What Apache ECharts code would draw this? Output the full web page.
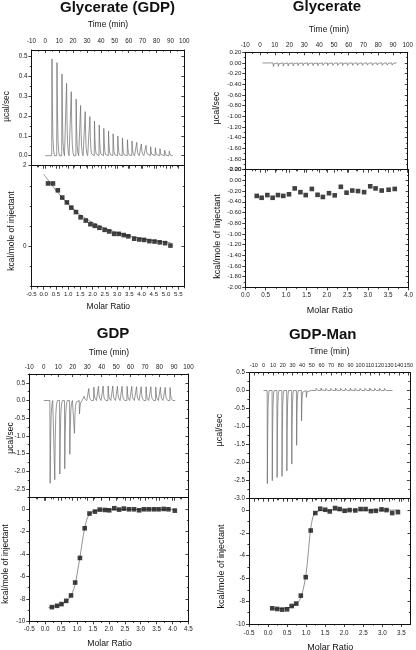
<!DOCTYPE html>
<html><head><meta charset="utf-8">
<script src="https://cdn.jsdelivr.net/npm/echarts@6/dist/echarts.min.js"></script>
<style>html,body{margin:0;padding:0;background:#fff}#c{width:416px;height:650px}</style>
</head><body><div id="c"></div><script>
const FONT = '"Liberation Sans", Arial, sans-serif';

// ---------- Panel A: Glycerate (GDP) ----------
const aInjTime = [4.8, 8.4, 12.0, 15.3, 18.7, 22.2, 25.4, 28.7, 32.1, 35.4, 38.8, 42.1, 45.5, 48.8, 52.2, 55.5, 59.1, 62.4, 65.8, 69.1, 72.5, 75.8, 79.2, 82.5, 85.9, 89.2];
const aInjPeak = [0.485, 0.467, 0.410, 0.363, 0.321, 0.284, 0.252, 0.221, 0.196, 0.174, 0.154, 0.137, 0.124, 0.110, 0.099, 0.089, 0.080, 0.074, 0.067, 0.059, 0.052, 0.045, 0.040, 0.035, 0.028, 0.023];
const aBaseline = [0, 91.7];
const aRatio = [0.18, 0.38, 0.58, 0.76, 0.95, 1.13, 1.32, 1.51, 1.72, 1.91, 2.09, 2.28, 2.49, 2.68, 2.88, 3.07, 3.27, 3.46, 3.70, 3.91, 4.11, 4.32, 4.53, 4.74, 4.96, 5.18];
const aHeat = [1.56, 1.56, 1.39, 1.21, 1.09, 0.96, 0.85, 0.72, 0.64, 0.55, 0.51, 0.46, 0.41, 0.37, 0.31, 0.31, 0.28, 0.25, 0.19, 0.17, 0.16, 0.13, 0.12, 0.10, 0.08, 0.02];
const aFitRatio = [0.0, 0.2, 0.4, 0.6, 0.8, 1.0, 1.25, 1.5, 1.75, 2.0, 2.5, 3.0, 3.5, 4.0, 4.5, 5.2];
const aFitHeat = [1.79, 1.63, 1.47, 1.32, 1.18, 1.05, 0.91, 0.78, 0.68, 0.59, 0.45, 0.34, 0.26, 0.19, 0.14, 0.09];
const aTimeLabels = [-10, 0, 10, 20, 30, 40, 50, 60, 70, 80, 90, 100];
const aPowerLabels = [0, 0.1, 0.2, 0.3, 0.4, 0.5];
const aRatioLabels = [-0.5, 0, 0.5, 1, 1.5, 2, 2.5, 3, 3.5, 4, 4.5, 5, 5.5];
const aHeatLabels = [2, 0];

// ---------- Panel B: Glycerate ----------
const bInjTime = [5.5, 9.0, 12.3, 15.7, 19.0, 22.4, 25.7, 29.1, 32.4, 35.8, 39.1, 42.5, 45.8, 49.2, 52.5, 55.9, 59.2, 62.6, 65.9, 69.3, 72.6, 76.0, 79.3, 82.7, 86.0, 89.4];
const bInjPeak = [0.03, -0.065, -0.06, -0.06, -0.055, -0.055, -0.05, -0.05, -0.05, -0.05, -0.05, -0.045, -0.05, -0.045, -0.045, -0.05, -0.045, -0.045, -0.045, -0.045, -0.04, -0.045, -0.04, -0.045, -0.04, -0.04];
const bBaseline = [1.6, 92.5];
const bRatio = [0.28, 0.40, 0.54, 0.67, 0.80, 0.93, 1.07, 1.21, 1.35, 1.48, 1.63, 1.77, 1.90, 2.05, 2.19, 2.34, 2.48, 2.62, 2.76, 2.91, 3.06, 3.19, 3.34, 3.51, 3.66];
const bHeat = [-0.29, -0.325, -0.275, -0.325, -0.275, -0.29, -0.26, -0.15, -0.22, -0.275, -0.16, -0.27, -0.31, -0.24, -0.28, -0.12, -0.23, -0.19, -0.20, -0.22, -0.11, -0.15, -0.19, -0.175, -0.16];
const bTimeLabels = [-10, 0, 10, 20, 30, 40, 50, 60, 70, 80, 90, 100];
const bPowerLabels = [0.2, 0, -0.2, -0.4, -0.6, -0.8, -1.0, -1.2, -1.4, -1.6, -1.8, -2.0];
const bRatioLabels = [0, 0.5, 1, 1.5, 2, 2.5, 3, 3.5, 4];
const bHeatLabels = [0.2, 0, -0.2, -0.4, -0.6, -0.8, -1.0, -1.2, -1.4, -1.6, -1.8, -2.0];

// ---------- Panel C: GDP ----------
const cInjTime = [4.4, 7.6, 11.1, 14.5, 18.0, 21.2, 24.7, 27.9, 31.1, 34.6, 37.8, 41.0, 44.5, 47.7, 50.9, 54.1, 57.6, 60.8, 64.1, 67.3, 70.7, 74.0, 77.4, 80.6, 83.9, 87.3];
const cInjPeak = [-2.34, -2.24, -2.08, -1.93, -1.52, -0.93, -0.38, 0.12, 0.34, 0.38, 0.40, 0.41, 0.41, 0.41, 0.40, 0.40, 0.40, 0.40, 0.39, 0.39, 0.39, 0.39, 0.38, 0.38, 0.37, 0.37];
const cBaseline = [0, 90.8];
const cRatio = [0.21, 0.37, 0.51, 0.66, 0.81, 0.94, 1.09, 1.24, 1.39, 1.56, 1.71, 1.87, 2.01, 2.17, 2.32, 2.47, 2.63, 2.79, 2.95, 3.10, 3.25, 3.41, 3.56, 3.72, 3.87, 4.07];
const cHeat = [-8.74, -8.62, -8.47, -8.18, -7.70, -6.55, -4.36, -1.72, -0.41, -0.24, -0.06, -0.09, -0.12, 0.06, -0.06, 0.03, -0.03, -0.03, -0.12, -0.03, -0.03, -0.03, -0.03, 0.0, -0.03, -0.15];
const cFitRatio = [0.1, 0.3, 0.5, 0.65, 0.8, 0.9, 0.97, 1.03, 1.09, 1.15, 1.2, 1.25, 1.3, 1.38, 1.5, 1.7, 2.0, 3.0, 4.1];
const cFitHeat = [-8.78, -8.68, -8.5, -8.25, -7.75, -7.1, -6.3, -5.3, -4.3, -3.2, -2.3, -1.6, -1.0, -0.5, -0.22, -0.1, -0.06, -0.04, -0.04];
const cTimeLabels = [-10, 0, 10, 20, 30, 40, 50, 60, 70, 80, 90, 100];
const cPowerLabels = [0.5, 0, -0.5, -1.0, -1.5, -2.0, -2.5];
const cRatioLabels = [-0.5, 0, 0.5, 1, 1.5, 2, 2.5, 3, 3.5, 4, 4.5];
const cHeatLabels = [0, -2, -4, -6, -8, -10];

// ---------- Panel D: GDP-Man ----------
const dInjTime = [4.0, 9.1, 14.1, 19.2, 24.2, 29.3, 34.3, 39.4, 44.4, 49.5, 54.5, 59.6, 64.6, 69.7, 74.7, 79.8, 84.8, 89.9, 94.9, 100.0, 105.0, 110.1, 115.1, 120.2, 125.2, 130.3];
const dInjPeak = [-2.58, -2.50, -2.41, -2.38, -2.23, -2.04, -1.52, -0.84, -0.19, 0.05, 0.06, 0.07, 0.06, 0.06, 0.07, 0.06, 0.06, 0.07, 0.06, 0.06, 0.06, 0.07, 0.06, 0.06, 0.06, 0.05];
const dBaseline = [0, 133.5];
const dRatio = [0.11, 0.24, 0.37, 0.50, 0.62, 0.74, 0.86, 0.99, 1.12, 1.24, 1.37, 1.50, 1.62, 1.76, 1.88, 2.01, 2.14, 2.29, 2.43, 2.56, 2.70, 2.83, 2.98, 3.11, 3.26, 3.41];
const dHeat = [-8.62, -8.68, -8.74, -8.71, -8.42, -8.21, -7.51, -5.89, -1.79, -0.26, 0.12, 0.03, -0.12, 0.18, 0.09, -0.06, 0.0, -0.03, 0.09, 0.09, -0.09, -0.06, 0.06, 0.0, -0.26, -0.18];
const dFitRatio = [0.1, 0.3, 0.5, 0.6, 0.7, 0.8, 0.86, 0.92, 0.98, 1.02, 1.06, 1.10, 1.14, 1.18, 1.22, 1.3, 1.4, 1.6, 3.45];
const dFitHeat = [-8.66, -8.65, -8.58, -8.5, -8.35, -8.05, -7.65, -7.0, -6.0, -5.0, -3.6, -2.2, -1.2, -0.6, -0.3, -0.12, -0.05, 0.0, 0.0];
const dTimeLabels = [-10, 0, 10, 20, 30, 40, 50, 60, 70, 80, 90, 100, 110, 120, 130, 140, 150];
const dPowerLabels = [0.5, 0, -0.5, -1.0, -1.5, -2.0, -2.5, -3.0];
const dRatioLabels = [-0.5, 0, 0.5, 1, 1.5, 2, 2.5, 3, 3.5];
const dHeatLabels = [0, -2, -4, -6, -8, -10];

// ---------- builders ----------
function steps(a, b, s) { const r = []; for (let v = a; v <= b + 1e-9; v += s) r.push(+v.toFixed(6)); return r; }
function trace(times, peaks, base) {
  const pts = [[base[0], 0]];
  for (let i = 0; i < times.length; i++) {
    const t = times[i], h = peaks[i];
    pts.push([t - 0.2, 0], [t, h], [t + 0.3, 0.5 * h], [t + 0.7, 0.18 * h], [t + 1.2, 0.05 * h], [t + 1.8, 0]);
  }
  pts.push([base[1], 0]);
  return pts;
}
function zip(a, b) { return a.map((v, i) => [v, b[i]]); }

const grids = [], xAxes = [], yAxes = [], series = [], graphics = [];

function axisObj(g, pos, c, showLabel, minor) {
  return {
    type: 'value', gridIndex: g, position: pos, min: c.min, max: c.max,
    axisLine: { show: !minor, onZero: false, lineStyle: { color: '#111', width: 1 } },
    axisTick: { show: true, inside: (pos === 'right' || pos === 'top'),
      length: minor ? 1.6 : 3, customValues: minor ? c.minor : c.labels,
      lineStyle: { color: '#111', width: 0.8 } },
    axisLabel: { show: showLabel, customValues: c.labels, formatter: c.fmt,
      fontSize: c.fs || 6.3, margin: c.margin, color: '#222', fontFamily: FONT, hideOverlap: false,
      showMinLabel: true, showMaxLabel: true },
    splitLine: { show: false }, minorTick: { show: false }, minorSplitLine: { show: false }
  };
}
function addGrid(rect, xs, ys) {
  const g = grids.length;
  grids.push({ left: rect[0], top: rect[1], width: rect[2], height: rect[3], containLabel: false });
  const xi = xAxes.length, yi = yAxes.length;
  xAxes.push(axisObj(g, xs.labelPos, xs, xs.show, false));
  xAxes.push(axisObj(g, xs.labelPos === 'top' ? 'bottom' : 'top', xs, false, false));
  xAxes.push(axisObj(g, 'bottom', xs, false, true));
  xAxes.push(axisObj(g, 'top', xs, false, true));
  yAxes.push(axisObj(g, 'left', ys, ys.show, false));
  yAxes.push(axisObj(g, 'right', ys, false, false));
  yAxes.push(axisObj(g, 'left', ys, false, true));
  yAxes.push(axisObj(g, 'right', ys, false, true));
  return { xi, yi };
}
const f0 = v => String(Math.round(v));
const f1 = v => v.toFixed(1);
const f2 = v => v.toFixed(2);

function addText(text, x, y, size, bold, rot) {
  graphics.push({ type: 'text', x: x, y: y, rotation: rot ? Math.PI / 2 : 0, silent: true,
    style: { text: text, fontSize: size, fontWeight: bold ? 'bold' : 'normal', fontFamily: FONT,
      fill: '#111', textAlign: 'center', textVerticalAlign: 'middle', align: 'center', verticalAlign: 'middle' } });
}
function rawSeries(ax, data) {
  series.push({ type: 'line', xAxisIndex: ax.xi, yAxisIndex: ax.yi, data: data, showSymbol: false,
    symbol: 'none', lineStyle: { color: '#6a6a6a', width: 0.7 }, animation: false, silent: true });
}
function heatSeries(ax, pts, fit) {
  series.push({ type: 'line', xAxisIndex: ax.xi, yAxisIndex: ax.yi, data: fit, showSymbol: false, symbol: 'none',
    smooth: 0.3, lineStyle: { color: '#777', width: 0.8 }, animation: false, silent: true, z: 2 });
  series.push({ type: 'scatter', xAxisIndex: ax.xi, yAxisIndex: ax.yi, data: pts, symbol: 'rect',
    symbolSize: 4.6, itemStyle: { color: '#111' }, animation: false, silent: true, z: 3 });
}

// Panel A
let ax = addGrid([31.4, 50, 152.9, 115.7],
  { min: -10, max: 100, labels: aTimeLabels, minor: steps(-5, 95, 10), fmt: f0, labelPos: 'top', show: true, margin: 6, fs: 6.3 },
  { min: -0.05, max: 0.53, labels: aPowerLabels, minor: steps(0.05, 0.45, 0.1), fmt: f1, show: true, margin: 4, fs: 6.3 });
rawSeries(ax, trace(aInjTime, aInjPeak, aBaseline));
ax = addGrid([31.4, 165.7, 153, 121],
  { min: -0.5, max: 5.75, labels: aRatioLabels, minor: steps(-0.25, 5.75, 0.5), fmt: f1, labelPos: 'bottom', show: true, margin: 5, fs: 6.1 },
  { min: -1, max: 2, labels: aHeatLabels, minor: [-1, 1, -0.5, 0.5, 1.5], fmt: f0, show: true, margin: 5, fs: 6.3 });
heatSeries(ax, zip(aRatio, aHeat), zip(aFitRatio, aFitHeat));

// Panel B
ax = addGrid([245.3, 52.3, 164.2, 117.4],
  { min: -10, max: 100, labels: bTimeLabels, minor: steps(-5, 95, 10), fmt: f0, labelPos: 'top', show: true, margin: 4, fs: 6.3 },
  { min: -2.0, max: 0.2, labels: bPowerLabels, minor: steps(-1.9, 0.1, 0.2), fmt: f2, show: true, margin: 4, fs: 6.1 });
rawSeries(ax, trace(bInjTime, bInjPeak, bBaseline));
ax = addGrid([245.3, 169.7, 164.2, 117.6],
  { min: 0, max: 4, labels: bRatioLabels, minor: steps(0.25, 3.75, 0.5), fmt: f1, labelPos: 'bottom', show: true, margin: 5, fs: 6.3 },
  { min: -2.0, max: 0.2, labels: bHeatLabels, minor: steps(-1.9, 0.1, 0.2), fmt: f2, show: true, margin: 4, fs: 6.1 });
heatSeries(ax, zip(bRatio, bHeat), []);

// Panel C
ax = addGrid([29.3, 374, 159.2, 123.7],
  { min: -10, max: 100, labels: cTimeLabels, minor: steps(-5, 95, 10), fmt: f0, labelPos: 'top', show: true, margin: 4, fs: 6.3 },
  { min: -2.75, max: 0.75, labels: cPowerLabels, minor: steps(-2.75, 0.75, 0.5), fmt: f1, show: true, margin: 4, fs: 6.3 });
rawSeries(ax, trace(cInjTime, cInjPeak, cBaseline));
ax = addGrid([29.3, 497.7, 159.2, 123.6],
  { min: -0.5, max: 4.5, labels: cRatioLabels, minor: steps(-0.25, 4.25, 0.5), fmt: f1, labelPos: 'bottom', show: true, margin: 5, fs: 6.3 },
  { min: -10, max: 1, labels: cHeatLabels, minor: steps(-9, 1, 2), fmt: f0, show: true, margin: 4, fs: 6.3 });
heatSeries(ax, zip(cRatio, cHeat), zip(cFitRatio, cFitHeat));

// Panel D
ax = addGrid([249, 372.5, 161.5, 126.2],
  { min: -15, max: 151.5, labels: dTimeLabels, minor: steps(-5, 145, 10), fmt: f0, labelPos: 'top', show: true, margin: 4, fs: 5.5 },
  { min: -3, max: 0.5, labels: dPowerLabels, minor: steps(-2.75, 0.25, 0.5), fmt: f1, show: true, margin: 4, fs: 6.3 });
rawSeries(ax, trace(dInjTime, dInjPeak, dBaseline));
ax = addGrid([249, 498.7, 161.5, 125.3],
  { min: -0.5, max: 3.74, labels: dRatioLabels, minor: steps(-0.25, 3.75, 0.5), fmt: f1, labelPos: 'bottom', show: true, margin: 6, fs: 6.3 },
  { min: -10, max: 1, labels: dHeatLabels, minor: steps(-9, 1, 2), fmt: f0, show: true, margin: 4, fs: 6.3 });
heatSeries(ax, zip(dRatio, dHeat), zip(dFitRatio, dFitHeat));

// Titles and axis names
addText('Glycerate (GDP)', 117.5, 8, 15, true);
addText('Glycerate', 327, 7, 15, true);
addText('GDP', 113, 333.5, 15, true);
addText('GDP-Man', 322.7, 334.5, 15, true);
addText('Time (min)', 108, 25, 8.5);
addText('Time (min)', 329, 30, 8.5);
addText('Time (min)', 109, 353, 8.5);
addText('Time (min)', 329.5, 352, 8.5);
addText('Molar Ratio', 108.3, 306.7, 8.5);
addText('Molar Ratio', 329.7, 311, 9);
addText('Molar Ratio', 109.5, 643.3, 8.7);
addText('Molar Ratio', 330.3, 647.3, 9);
addText('µcal/sec', 6.5, 106.5, 8.3, false, true);
addText('kcal/mole of injectant', 12, 231, 8.5, false, true);
addText('µcal/sec', 217, 108, 8.8, false, true);
addText('kcal/mole of Injectant', 217.5, 236.5, 9, false, true);
addText('µcal/sec', 11, 438, 8.5, false, true);
addText('kcal/mole of injectant', 6, 564, 8.5, false, true);
addText('µcal/sec', 220, 430, 8.8, false, true);
addText('kcal/mole of injectant', 221.7, 566.5, 9, false, true);

const chart = echarts.init(document.getElementById('c'), null, { renderer: 'canvas' });
chart.setOption({
  backgroundColor: '#fff', animation: false,
  grid: grids, xAxis: xAxes, yAxis: yAxes, series: series, graphic: graphics
});
</script></body></html>
